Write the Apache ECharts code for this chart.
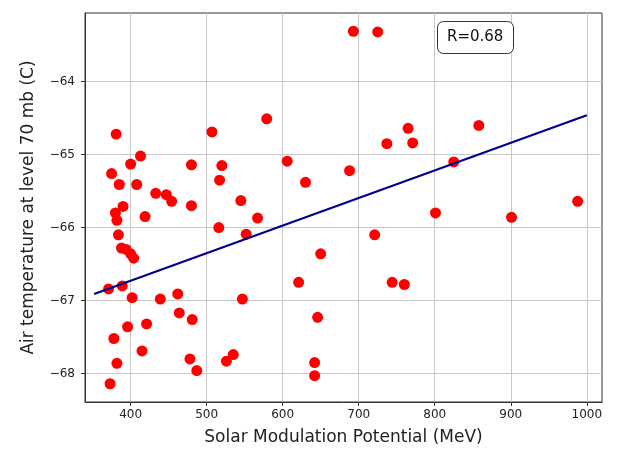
<!DOCTYPE html>
<html>
<head>
<meta charset="utf-8">
<script src="https://cdn.jsdelivr.net/npm/echarts@6/dist/echarts.min.js"></script>
<style>
  html, body { margin: 0; padding: 0; background: #fff; }
  #c { width: 621px; height: 453px; }
</style>
</head>
<body>
<div id="c"></div>
<script>
// solar modulation potential (MeV) for each observation
var smp = [
  693, 725, 381, 507, 579, 413, 400, 375, 385, 408,
  433, 447, 454, 480, 520, 517, 545, 606, 630, 688,
  480, 390, 380, 382, 419, 567, 516, 552, 384, 388,
  394, 400, 404, 650, 621, 371, 389, 402, 439, 462,
  547, 464, 481, 421, 396, 378, 646, 415, 478, 487,
  526, 535, 382, 373, 642, 642, 765, 737, 771, 858,
  825, 988, 801, 901, 721, 744, 760
];
// air temperature at 70 mb (C)
var temp = [
  -63.31, -63.32, -64.72, -64.69, -64.51, -65.02, -65.13, -65.26, -65.41, -65.41,
  -65.53, -65.55, -65.64, -65.14, -65.15, -65.35, -65.63, -65.09, -65.38, -65.22,
  -65.70, -65.71, -65.80, -65.90, -65.85, -65.87, -66.00, -66.09, -66.10, -66.28,
  -66.30, -66.36, -66.42, -66.36, -66.75, -66.84, -66.80, -66.96, -66.98, -66.91,
  -66.98, -67.17, -67.26, -67.32, -67.36, -67.52, -67.23, -67.69, -67.80, -67.96,
  -67.83, -67.74, -67.86, -68.14, -67.85, -68.03, -64.64, -64.85, -64.84, -64.60,
  -65.10, -65.64, -65.80, -65.86, -66.10, -66.75, -66.78
];
// regression line end points
var fitX = [352, 1000];
var fitY = [-66.91, -64.46];

var xTicks = [400, 500, 600, 700, 800, 900, 1000];
var yTicks = [-68, -67, -66, -65, -64];

var points = smp.map(function (v, i) { return [v, temp[i]]; });
var fitLine = fitX.map(function (v, i) { return [v, fitY[i]]; });

var font = 'DejaVu Sans';
var chart = echarts.init(document.getElementById('c'));
chart.setOption({
  animation: false,
  textStyle: { fontFamily: font },
  title: {
    text: 'R=0.68',
    left: 437, top: 21,
    padding: [9, 10, 9, 10],
    borderWidth: 1, borderColor: '#333', borderRadius: 6,
    backgroundColor: '#fff',
    textStyle: { fontFamily: font, fontSize: 15, fontWeight: 'normal', color: '#111' }
  },
  grid: {
    left: 85, right: 19, top: 13, bottom: 51,
    show: true, borderColor: '#333', borderWidth: 1
  },
  xAxis: {
    type: 'value', min: 340, max: 1020,
    name: 'Solar Modulation Potential (MeV)',
    nameLocation: 'middle', nameGap: 27,
    nameTextStyle: { fontFamily: font, fontSize: 17, color: '#222' },
    axisLine: { show: true, lineStyle: { color: '#333' } },
    axisTick: { show: true, inside: false, length: 4, customValues: xTicks, lineStyle: { color: '#333' } },
    axisLabel: {
      customValues: xTicks, margin: 7, fontSize: 12, color: '#222',
      formatter: function (v) { return String(v); }
    },
    splitLine: { show: true, lineStyle: { color: '#c8c8c8', width: 1 } }
  },
  yAxis: {
    type: 'value', min: -68.39, max: -63.06,
    name: 'Air temperature at level 70 mb (C)',
    nameLocation: 'middle', nameGap: 48,
    nameTextStyle: { fontFamily: font, fontSize: 17, color: '#222' },
    axisLine: { show: true, lineStyle: { color: '#333' } },
    axisTick: { show: true, inside: false, length: 4, customValues: yTicks, lineStyle: { color: '#333' } },
    axisLabel: {
      customValues: yTicks, margin: 10, fontSize: 12, color: '#222',
      formatter: function (v) { return String(v).replace('-', '\u2212'); }
    },
    splitLine: { show: true, lineStyle: { color: '#c8c8c8', width: 1 } }
  },
  series: [
    {
      type: 'scatter',
      data: points,
      symbolSize: 11,
      itemStyle: { color: '#ff0000', opacity: 1 },
      z: 2
    },
    {
      type: 'line',
      data: fitLine,
      symbol: 'none',
      lineStyle: { color: '#00008b', width: 2.2 },
      z: 3
    }
  ]
});
</script>
</body>
</html>
